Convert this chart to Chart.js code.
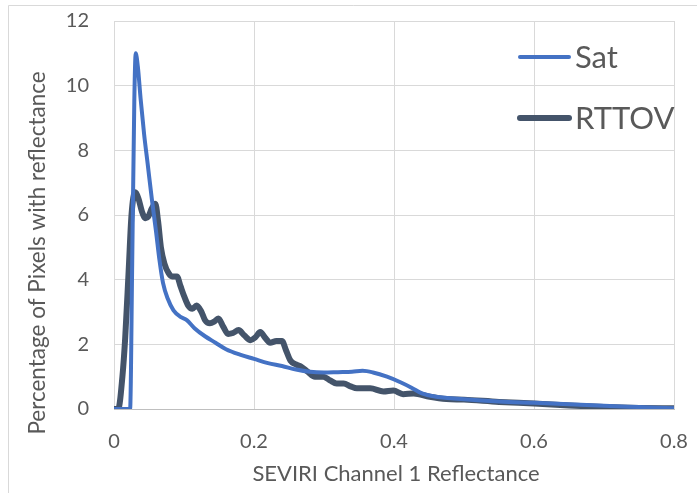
<!DOCTYPE html>
<html>
<head>
<meta charset="utf-8">
<script src="https://cdn.jsdelivr.net/npm/chart.js@4.4.1/dist/chart.umd.min.js"></script>
<style>
html,body{margin:0;padding:0;background:#fff;}
#wrap{width:697px;height:493px;position:relative;}
</style>
</head>
<body>
<div id="wrap"><canvas id="c" width="697" height="493"></canvas></div>
<script>
// ---- data ----
const xTitle = "SEVIRI Channel 1 Reflectance";
const yTitle = "Percentage of Pixels with reflectance";
const seriesNames = ["Sat", "RTTOV"];

const satX = [0, 0.02, 0.023, 0.026, 0.029, 0.031, 0.034, 0.038, 0.043, 0.048, 0.054, 0.06, 0.065, 0.07, 0.077, 0.085, 0.095, 0.104, 0.115, 0.13, 0.145, 0.16, 0.18, 0.2, 0.22, 0.24, 0.26, 0.28, 0.3, 0.32, 0.34, 0.355, 0.37, 0.39, 0.41, 0.425, 0.44, 0.46, 0.5, 0.55, 0.6, 0.65, 0.7, 0.75, 0.8];
const satY = [0, 0, 0, 4.5, 9.5, 11.0, 10.6, 9.6, 8.5, 7.6, 6.5, 5.5, 4.6, 3.9, 3.4, 3.05, 2.85, 2.75, 2.5, 2.25, 2.05, 1.85, 1.68, 1.55, 1.42, 1.33, 1.22, 1.15, 1.13, 1.14, 1.15, 1.18, 1.13, 1.0, 0.82, 0.66, 0.48, 0.38, 0.3, 0.23, 0.19, 0.15, 0.1, 0.06, 0.02];

const rtX = [0, 0.006, 0.012, 0.016, 0.021, 0.025, 0.03, 0.035, 0.04, 0.045, 0.049, 0.054, 0.059, 0.063, 0.067, 0.072, 0.078, 0.083, 0.09, 0.095, 0.1, 0.106, 0.112, 0.118, 0.125, 0.13, 0.137, 0.143, 0.149, 0.156, 0.163, 0.17, 0.178, 0.186, 0.195, 0.202, 0.209, 0.216, 0.223, 0.232, 0.24, 0.246, 0.252, 0.26, 0.268, 0.277, 0.287, 0.299, 0.309, 0.318, 0.328, 0.338, 0.347, 0.366, 0.385, 0.399, 0.413, 0.428, 0.451, 0.475, 0.5, 0.55, 0.6, 0.65, 0.7, 0.75, 0.8];
const rtY = [0, 0, 1.0, 2.2, 4.3, 6.0, 6.7, 6.5, 6.1, 5.9, 5.95, 6.2, 6.35, 5.8, 5.0, 4.5, 4.2, 4.1, 4.1, 3.8, 3.5, 3.2, 3.1, 3.2, 3.0, 2.75, 2.65, 2.7, 2.8, 2.55, 2.32, 2.35, 2.44, 2.28, 2.13, 2.22, 2.38, 2.2, 2.05, 2.1, 2.1, 1.8, 1.5, 1.38, 1.3, 1.15, 1.0, 1.0, 0.88, 0.79, 0.79, 0.7, 0.64, 0.64, 0.54, 0.57, 0.46, 0.48, 0.38, 0.31, 0.29, 0.22, 0.17, 0.11, 0.06, 0.03, 0.02];

const xTicks = [0, 0.2, 0.4, 0.6, 0.8];
const yTicks = [0, 2, 4, 6, 8, 10, 12];

// ---- styling ----
const FONT = "Lato, 'Open Sans', sans-serif";
const TXT = "#595959";
const GRID = "#d9d9d9";
const colors = ["#4472C4", "#44546A"];
const widths = [4, 6];

function pts(xs, ys){ return xs.map((x,i)=>({x:x, y:ys[i]})); }
function noPad(s){ s.paddingTop = 0; s.paddingBottom = 0; s.paddingLeft = 0; s.paddingRight = 0; }

const decorPlugin = {
  id: 'decor',
  beforeDraw(chart){
    const ctx = chart.ctx;
    ctx.save();
    ctx.fillStyle = '#fff';
    ctx.fillRect(0,0,chart.width,chart.height);
    ctx.strokeStyle = GRID;
    ctx.lineWidth = 1;
    ctx.beginPath();
    ctx.moveTo(8.5, 500);
    ctx.lineTo(8.5, 5.5);
    ctx.lineTo(700, 5.5);
    ctx.stroke();
    ctx.restore();
  },
  afterDraw(chart){
    const ctx = chart.ctx;
    const ca = chart.chartArea;
    ctx.save();
    ctx.fillStyle = TXT;
    ctx.font = "22px " + FONT;
    ctx.textAlign = 'center';
    ctx.textBaseline = 'middle';
    ctx.fillText(xTitle, 396, 474);
    ctx.translate(38, 253);
    ctx.rotate(-Math.PI/2);
    ctx.font = "22.5px " + FONT;
    ctx.fillText(yTitle, 0, 0);
    ctx.restore();
    ctx.save();
    const ys = [57, 118];
    chart.data.datasets.forEach((ds, i) => {
      ctx.strokeStyle = ds.borderColor;
      ctx.lineWidth = ds.borderWidth;
      ctx.lineCap = 'round';
      ctx.beginPath();
      ctx.moveTo(520, ys[i]);
      ctx.lineTo(569, ys[i]);
      ctx.stroke();
      ctx.fillStyle = TXT;
      ctx.font = "31px " + FONT;
      ctx.textAlign = 'left';
      ctx.textBaseline = 'middle';
      ctx.fillText(ds.label, 575, ys[i] + 1);
    });
    ctx.restore();
  }
};

new Chart(document.getElementById('c'), {
  type: 'line',
  data: {
    datasets: [
      { label: seriesNames[0], data: pts(satX, satY), borderColor: colors[0], backgroundColor: colors[0], borderWidth: widths[0], pointRadius: 0, cubicInterpolationMode: 'monotone', borderJoinStyle: 'round', borderCapStyle: 'round', fill: false },
      { label: seriesNames[1], data: pts(rtX, rtY), borderColor: colors[1], backgroundColor: colors[1], borderWidth: widths[1], pointRadius: 0, cubicInterpolationMode: 'monotone', borderJoinStyle: 'round', borderCapStyle: 'round', fill: false }
    ]
  },
  options: {
    responsive: false,
    animation: false,
    devicePixelRatio: 1,
    layout: { padding: { left: 0, top: 21, right: 23, bottom: 0 } },
    plugins: { legend: { display: false }, tooltip: { enabled: false }, title: { display: false } },
    scales: {
      x: {
        type: 'linear', min: 0, max: 0.8,
        afterBuildTicks(s){ s.ticks = xTicks.map(v=>({value:v})); },
        afterFit(s){ s.height = 84; noPad(s); },
        grid: { color: GRID, lineWidth: 1, drawTicks: false },
        border: { color: '#bfbfbf', width: 1 },
        ticks: { color: TXT, font: { size: 20, family: FONT }, padding: 21, maxRotation: 0,
          callback: v => String(Math.round(v*10)/10) }
      },
      y: {
        type: 'linear', min: 0, max: 12,
        afterBuildTicks(s){ s.ticks = yTicks.map(v=>({value:v})); },
        afterFit(s){ s.width = 114; noPad(s); },
        grid: { color: GRID, lineWidth: 1, drawTicks: false },
        border: { display: false },
        ticks: { color: TXT, font: { size: 20, family: FONT }, padding: 25 }
      }
    }
  },
  plugins: [decorPlugin]
});
</script>
</body>
</html>
